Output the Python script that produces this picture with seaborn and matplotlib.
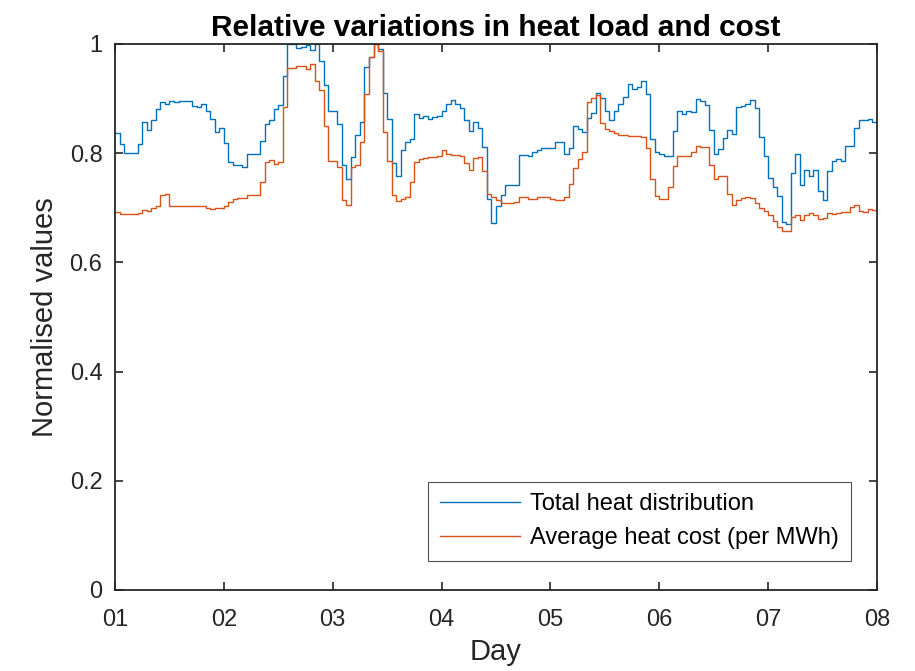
import numpy as np
import pandas as pd
import matplotlib
matplotlib.use("Agg")
import matplotlib.pyplot as plt
import seaborn as sns

# ---- data (hourly values, days 01..07) ----
blue_d1 = [0.837,0.816,0.800,0.800,0.800,0.816,0.857,0.842,0.860,0.881,0.893,0.891,0.896,0.894,0.895,0.895,0.895,0.887,0.885,0.891,0.878,0.863,0.839,0.846]
blue_d2 = [0.818,0.784,0.778,0.779,0.774,0.799,0.799,0.799,0.823,0.853,0.861,0.881,0.889,0.942,1.0,1.0,0.993,0.995,0.998,0.989,1.0,0.968,0.924,0.877]
blue_d3 = [0.877,0.853,0.778,0.753,0.793,0.833,0.857,0.957,0.976,1.0,0.991,0.911,0.863,0.782,0.758,0.806,0.821,0.826,0.872,0.864,0.869,0.863,0.866,0.869]
blue_d4 = [0.878,0.890,0.898,0.891,0.883,0.860,0.841,0.858,0.847,0.811,0.717,0.672,0.704,0.723,0.742,0.741,0.741,0.797,0.797,0.794,0.802,0.806,0.810,0.809]
blue_d5 = [0.809,0.821,0.821,0.799,0.810,0.849,0.845,0.838,0.864,0.874,0.911,0.902,0.877,0.860,0.877,0.890,0.903,0.926,0.918,0.921,0.933,0.908,0.826,0.803]
blue_d6 = [0.799,0.794,0.794,0.840,0.878,0.872,0.878,0.875,0.899,0.896,0.888,0.843,0.799,0.808,0.828,0.842,0.836,0.885,0.886,0.890,0.898,0.882,0.830,0.795]
blue_d7 = [0.755,0.738,0.721,0.674,0.670,0.763,0.799,0.742,0.769,0.759,0.769,0.730,0.715,0.768,0.786,0.790,0.785,0.814,0.814,0.847,0.860,0.860,0.863,0.857]
blue_end = 0.857

cost_d1 = [0.693,0.689,0.688,0.688,0.688,0.691,0.696,0.695,0.700,0.703,0.723,0.725,0.703,0.703,0.703,0.703,0.703,0.703,0.703,0.703,0.700,0.697,0.699,0.699]
cost_d2 = [0.703,0.710,0.717,0.718,0.718,0.724,0.724,0.724,0.747,0.784,0.788,0.780,0.783,0.885,0.956,0.956,0.959,0.959,0.954,0.963,0.933,0.915,0.850,0.786]
cost_d3 = [0.786,0.774,0.715,0.705,0.775,0.779,0.820,0.908,0.977,1.0,0.987,0.838,0.785,0.724,0.713,0.717,0.719,0.747,0.784,0.790,0.791,0.793,0.793,0.794]
cost_d4 = [0.805,0.799,0.797,0.797,0.795,0.782,0.769,0.791,0.793,0.768,0.725,0.720,0.714,0.709,0.709,0.709,0.711,0.719,0.719,0.717,0.716,0.719,0.720,0.720]
cost_d5 = [0.716,0.714,0.715,0.720,0.744,0.773,0.790,0.802,0.893,0.901,0.907,0.855,0.845,0.841,0.837,0.834,0.833,0.831,0.832,0.832,0.829,0.810,0.752,0.721]
cost_d6 = [0.717,0.717,0.739,0.777,0.794,0.794,0.794,0.802,0.814,0.811,0.811,0.779,0.753,0.758,0.758,0.725,0.706,0.715,0.718,0.720,0.718,0.708,0.699,0.695]
cost_d7 = [0.686,0.675,0.665,0.658,0.658,0.683,0.686,0.678,0.687,0.690,0.687,0.679,0.681,0.690,0.689,0.690,0.693,0.692,0.701,0.706,0.695,0.692,0.697,0.696]
cost_end = 0.696

day_labels = ["01", "02", "03", "04", "05", "06", "07", "08"]
y_ticks = [0, 0.2, 0.4, 0.6, 0.8, 1.0]
y_labels = ["0", "0.2", "0.4", "0.6", "0.8", "1"]
series_names = ["Total heat distribution", "Average heat cost (per MWh)"]
colors = ["#0072BD", "#D95319"]

blue = blue_d1 + blue_d2 + blue_d3 + blue_d4 + blue_d5 + blue_d6 + blue_d7 + [blue_end]
cost = cost_d1 + cost_d2 + cost_d3 + cost_d4 + cost_d5 + cost_d6 + cost_d7 + [cost_end]
day = 1 + np.arange(len(blue)) / 24.0

df = pd.DataFrame({"Day": day, "heat": blue, "cost": cost})

plt.rcParams["font.family"] = ["Liberation Sans", "DejaVu Sans"]
fig = plt.figure(figsize=(9.15, 6.71), dpi=100)
ax = fig.add_axes([115 / 915, (671 - 590) / 671, 762 / 915, 546 / 671])

sns.lineplot(data=df, x="Day", y="heat", ax=ax, color=colors[0], lw=1.0,
             drawstyle="steps-post", estimator=None, label=series_names[0])
sns.lineplot(data=df, x="Day", y="cost", ax=ax, color=colors[1], lw=1.0,
             drawstyle="steps-post", estimator=None, label=series_names[1])

ax.set_xlim(1, 8)
ax.set_ylim(0, 1)
ax.set_xticks(range(1, 9))
ax.set_xticklabels(day_labels)
ax.set_yticks(y_ticks)
ax.set_yticklabels(y_labels)

axcol = "#262626"
for s in ax.spines.values():
    s.set_color(axcol)
    s.set_linewidth(1.3)
ax.tick_params(direction="in", length=6, width=1.2, colors=axcol, labelsize=17,
               top=True, right=True)
ax.tick_params(axis="x", pad=14)
ax.tick_params(axis="y", pad=9)

ax.set_xlabel("Day", fontsize=21, color=axcol, labelpad=5)
ax.set_ylabel("Normalised values", fontsize=21, color=axcol, labelpad=8)
ax.set_title("Relative variations in heat load and cost", fontsize=21.5,
             fontweight="bold", color="black", pad=6)

leg = ax.legend(loc="lower right", bbox_to_anchor=(0.966, 0.053), borderaxespad=0,
                fontsize=17, handlelength=3.4, frameon=True, fancybox=False,
                borderpad=0.5, labelspacing=0.5, handletextpad=0.45)
leg.get_frame().set_edgecolor(axcol)
leg.get_frame().set_linewidth(0.8)

fig.savefig("out.png", dpi=100)
